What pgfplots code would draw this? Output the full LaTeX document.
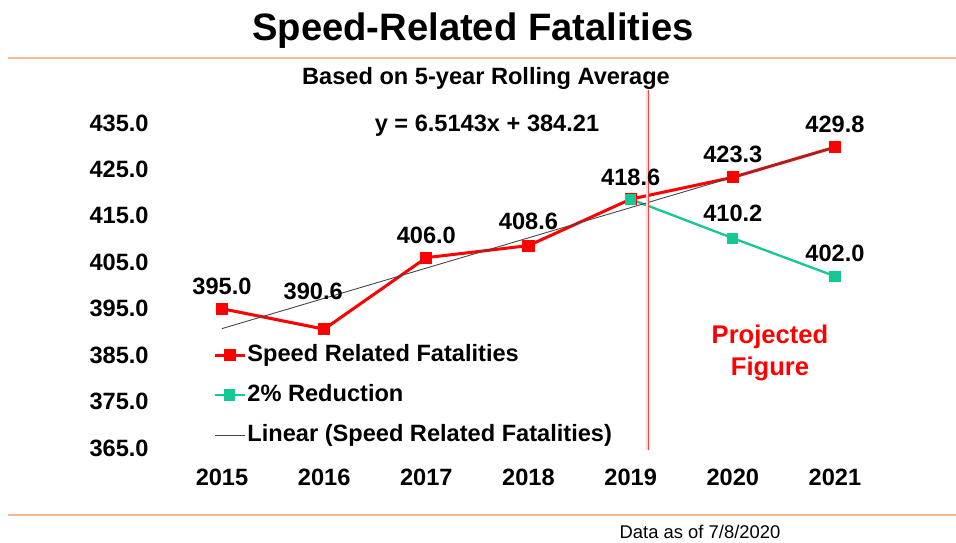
\documentclass[border=0pt]{standalone}
\usepackage{fontspec}
\setmainfont{Liberation Sans}
\usepackage{pgfplots}
\pgfplotsset{compat=1.18}
\definecolor{peach}{RGB}{248,185,145}
\definecolor{teal2}{RGB}{20,200,150}
\definecolor{trend}{RGB}{70,70,70}
\newcommand\lab{\fontsize{11.8}{14}\selectfont\bfseries}
\begin{document}
\begin{tikzpicture}
\path[use as bounding box] (0,0) rectangle (478pt,271pt);
% title, rules, notes
\node[anchor=base,inner sep=0pt,font=\fontsize{19.1}{22}\selectfont\bfseries] at (236.5pt,250.5pt) {Speed-Related Fatalities};
\draw[peach,line width=1pt] (4pt,242pt) -- (478pt,242pt);
\node[anchor=base,inner sep=0pt,font=\lab] at (243pt,229pt) {Based on 5-year Rolling Average};
\draw[peach,line width=1pt] (4pt,13.5pt) -- (478pt,13.5pt);
\node[anchor=base,inner sep=0pt,font=\fontsize{9.2}{11}\selectfont] at (350pt,1.75pt) {Data as of 7/8/2020};
\node[anchor=base,inner sep=0pt,font=\lab] at (243.5pt,205.25pt) {y = 6.5143x + 384.21};
\node[anchor=base,inner sep=0pt,text=red,font=\fontsize{12.8}{15}\selectfont\bfseries] at (385pt,99.5pt) {Projected};
\node[anchor=base,inner sep=0pt,text=red,font=\fontsize{12.8}{15}\selectfont\bfseries] at (385pt,83.5pt) {Figure};
\begin{axis}[
  at={(111pt,47pt)}, anchor=south west,
  scale only axis, width=306.5pt, height=162.5pt,
  xmin=2015, xmax=2021, ymin=365, ymax=435,
  clip=false,
  axis line style={draw=none}, major tick length=0pt,
  xtick={2015,2016,2017,2018,2019,2020,2021},
  xticklabels={2015,2016,2017,2018,2019,2020,2021},
  ytick={365,375,385,395,405,415,425,435},
  yticklabels={365.0,375.0,385.0,395.0,405.0,415.0,425.0,435.0},
  xticklabel style={font=\lab, inner sep=0pt, anchor=center, yshift=-14.5pt},
  yticklabel style={font=\lab, inner sep=0pt, anchor=east, xshift=-36.5pt},
  legend style={draw=none, fill=none, inner sep=0pt, at={(-0.0147,0.163)}, anchor=west,
    font=\lab, row sep=7pt, column sep=0pt,
    nodes={inner sep=0.5pt, text height=9pt, text depth=3pt}},
  legend cell align=left,
  legend image code/.code={\draw[mark repeat=2,mark phase=2,#1] plot coordinates {(0pt,0pt)(7.5pt,0pt)(15pt,0pt)};},
]
\addplot[red, line width=1.5pt, mark=square*, mark size=2.25pt, mark options={solid}] coordinates {
 (2015,395.0) (2016,390.6) (2017,406.0) (2018,408.6) (2019,418.6) (2020,423.3) (2021,429.8)};
\addlegendentry{Speed Related Fatalities}
\addplot[teal2, line width=1.15pt, mark=square*, mark size=2.2pt] coordinates {
 (2019,418.6) (2020,410.2) (2021,402.0)};
\addlegendentry{2\% Reduction}
\addplot[trend, line width=0.45pt, no marks] coordinates {
 (2015,390.7243) (2016,397.2386) (2017,403.7529) (2018,410.2672) (2019,416.7815) (2020,423.2958) (2021,429.8101)};
\addlegendentry{Linear (Speed Related Fatalities)}
\draw[red!75, double=red!15, double distance=0.6pt, line width=0.45pt] (axis cs:2019.16,364.6) -- (axis cs:2019.16,442.1);
% data labels
\node[font=\lab, inner sep=0pt] at (axis cs:2015,395.0) [yshift=11.4pt] {395.0};
\node[font=\lab, inner sep=0pt] at (axis cs:2016,390.6) [xshift=-5.5pt, yshift=19pt] {390.6};
\node[font=\lab, inner sep=0pt] at (axis cs:2017,406.0) [yshift=11pt] {406.0};
\node[font=\lab, inner sep=0pt] at (axis cs:2018,408.6) [yshift=12pt] {408.6};
\node[font=\lab, inner sep=0pt] at (axis cs:2019,418.6) [yshift=11pt] {418.6};
\node[font=\lab, inner sep=0pt] at (axis cs:2020,423.3) [yshift=11.6pt] {423.3};
\node[font=\lab, inner sep=0pt] at (axis cs:2021,429.8) [yshift=11.6pt] {429.8};
\node[font=\lab, inner sep=0pt] at (axis cs:2020,410.2) [yshift=12.5pt] {410.2};
\node[font=\lab, inner sep=0pt] at (axis cs:2021,402.0) [yshift=11.6pt] {402.0};
\end{axis}
\end{tikzpicture}
\end{document}
